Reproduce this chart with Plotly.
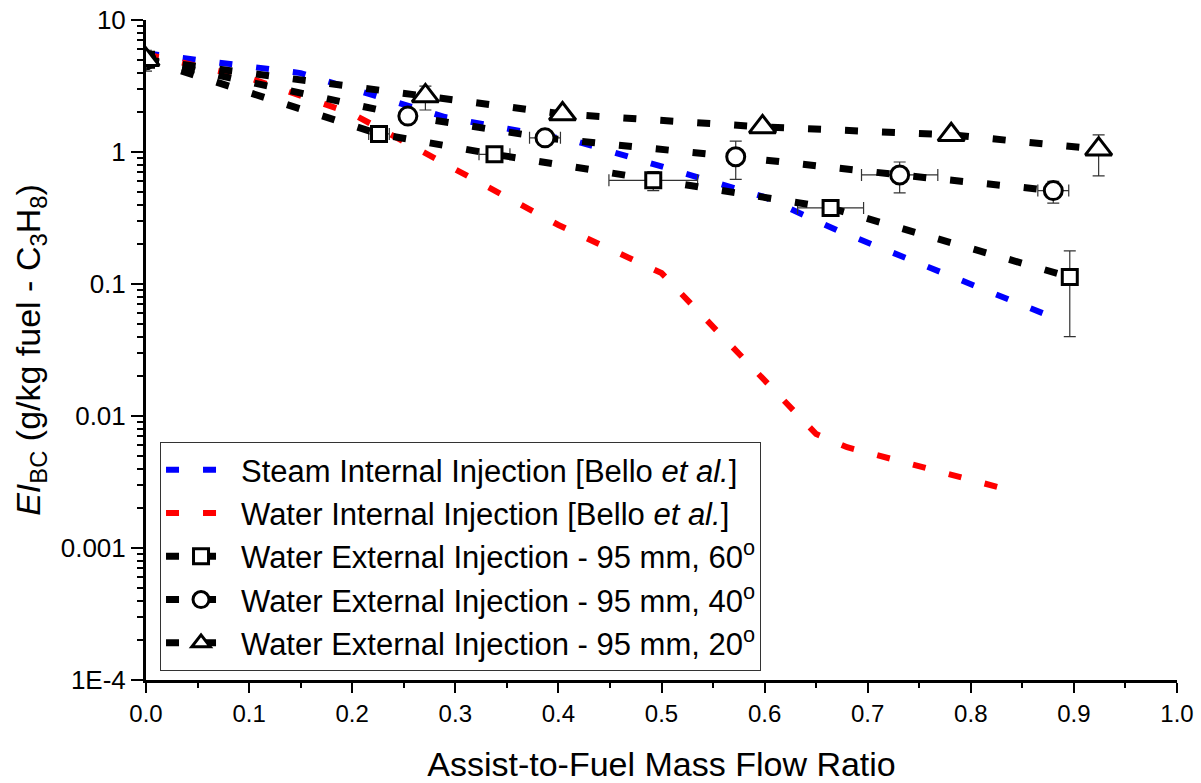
import plotly.graph_objects as go

# Bello et al. internal-injection curves (assist-to-fuel ratio, EI_BC)
steam_x = [0.0, 0.15, 0.29, 0.42, 0.60, 0.67, 0.87]
steam_y = [5.6, 3.96, 1.84, 1.19, 0.456, 0.256, 0.060]

water_int_x = [0.0, 0.10, 0.20, 0.30, 0.40, 0.50, 0.65, 0.68, 0.826]
water_int_y = [5.5, 3.64, 1.95, 0.73, 0.28, 0.121, 0.0073, 0.0058, 0.0029]

# External injection, 95 mm, 60 degrees
sq_x = [0.0, 0.226, 0.338, 0.492, 0.664, 0.896]
sq_y = [5.0, 1.37, 0.96, 0.61, 0.377, 0.113]
sq_xerr = [0.0, 0.010, 0.015, 0.043, 0.032, 0.0]
sq_yerr_plus = [0.0, 0.0, 0.0, 0.10, 0.05, 0.065]
sq_yerr_minus = [0.0, 0.0, 0.0, 0.10, 0.05, 0.073]

# External injection, 95 mm, 40 degrees
ci_x = [0.0, 0.254, 0.387, 0.572, 0.731, 0.880]
ci_y = [5.0, 1.87, 1.28, 0.92, 0.67, 0.51]
ci_xerr = [0.0, 0.0, 0.015, 0.0, 0.037, 0.015]
ci_yerr_plus = [0.0, 0.0, 0.0, 0.29, 0.17, 0.09]
ci_yerr_minus = [0.0, 0.0, 0.0, 0.30, 0.18, 0.10]

# External injection, 95 mm, 20 degrees
tr_x = [0.0, 0.271, 0.404, 0.598, 0.781, 0.924]
tr_y = [5.0, 2.66, 1.94, 1.55, 1.35, 1.05]
tr_yerr_plus = [0.9, 0.50, 0.0, 0.0, 0.0, 0.30]
tr_yerr_minus = [0.9, 0.58, 0.0, 0.0, 0.0, 0.39]

FONT = "Liberation Sans, Arial, sans-serif"
DASH = "13px,24px"

fig = go.Figure()

fig.add_trace(go.Scatter(
    x=steam_x, y=steam_y, mode="lines",
    name="Steam Internal Injection [Bello <i>et al.</i>]",
    line=dict(color="#0000ff", width=6, dash=DASH),
))
fig.add_trace(go.Scatter(
    x=water_int_x, y=water_int_y, mode="lines",
    name="Water Internal Injection [Bello <i>et al.</i>]",
    line=dict(color="#ff0000", width=6, dash=DASH),
))

err_style = dict(type="data", symmetric=False, color="#333333", thickness=1.2, width=6)

fig.add_trace(go.Scatter(
    x=sq_x, y=sq_y, mode="lines+markers",
    name="Water External Injection - 95 mm, 60<sup>o</sup>",
    line=dict(color="black", width=7, dash=DASH),
    marker=dict(symbol="square", size=15, color="white",
                line=dict(color="black", width=3)),
    error_x=dict(type="data", array=sq_xerr, color="#333333", thickness=1.2, width=6),
    error_y=dict(err_style, array=sq_yerr_plus, arrayminus=sq_yerr_minus),
))
fig.add_trace(go.Scatter(
    x=ci_x, y=ci_y, mode="lines+markers",
    name="Water External Injection - 95 mm, 40<sup>o</sup>",
    line=dict(color="black", width=7, dash=DASH),
    marker=dict(symbol="circle", size=18, color="white",
                line=dict(color="black", width=3)),
    error_x=dict(type="data", array=ci_xerr, color="#333333", thickness=1.2, width=6),
    error_y=dict(err_style, array=ci_yerr_plus, arrayminus=ci_yerr_minus),
))
fig.add_trace(go.Scatter(
    x=tr_x, y=tr_y, mode="lines+markers",
    name="Water External Injection - 95 mm, 20<sup>o</sup>",
    line=dict(color="black", width=7, dash=DASH),
    marker=dict(symbol="triangle-up", size=23, color="white",
                line=dict(color="black", width=3)),
    error_y=dict(err_style, array=tr_yerr_plus, arrayminus=tr_yerr_minus),
))

fig.update_layout(
    width=1201, height=783,
    margin=dict(l=146, r=24, t=20, b=103),
    paper_bgcolor="white", plot_bgcolor="white",
    font=dict(family=FONT, size=25, color="black"),
    showlegend=True,
    legend=dict(
        x=0.0136, y=0.0136, xanchor="left", yanchor="bottom",
        bgcolor="white", bordercolor="#333333", borderwidth=1,
        font=dict(family=FONT, size=31, color="black"),
        itemwidth=70,
    ),
)

fig.update_xaxes(
    range=[0, 1], dtick=0.1, tickformat=".1f",
    showgrid=False, zeroline=False, automargin=False,
    showline=True, linecolor="black", linewidth=3,
    ticks="outside", ticklen=10, tickwidth=2, tickcolor="black",
    minor=dict(ticks="outside", ticklen=5, tickwidth=2, tickcolor="black", dtick=0.05),
    tickfont=dict(size=24),
    title=dict(text="Assist-to-Fuel Mass Flow Ratio", font=dict(size=34), standoff=30),
)

fig.update_yaxes(
    type="log", range=[-4, 1],
    tickvals=[1e-4, 1e-3, 1e-2, 1e-1, 1, 10],
    ticktext=["1E-4", "0.001", "0.01", "0.1", "1", "10"],
    showgrid=False, zeroline=False, automargin=False,
    showline=True, linecolor="black", linewidth=3,
    ticks="outside", ticklen=12, tickwidth=2, tickcolor="black",
    minor=dict(ticks="outside", ticklen=6, tickwidth=2, tickcolor="black",
               tickvals=[m * 10 ** e for e in range(-4, 1) for m in range(2, 10)]),
    tickfont=dict(size=26),
    title=dict(text="<i>EI</i><sub>BC</sub> (g/kg fuel - C<sub>3</sub>H<sub>8</sub>)",
               font=dict(size=34), standoff=10),
)

fig.write_html("out.html")
